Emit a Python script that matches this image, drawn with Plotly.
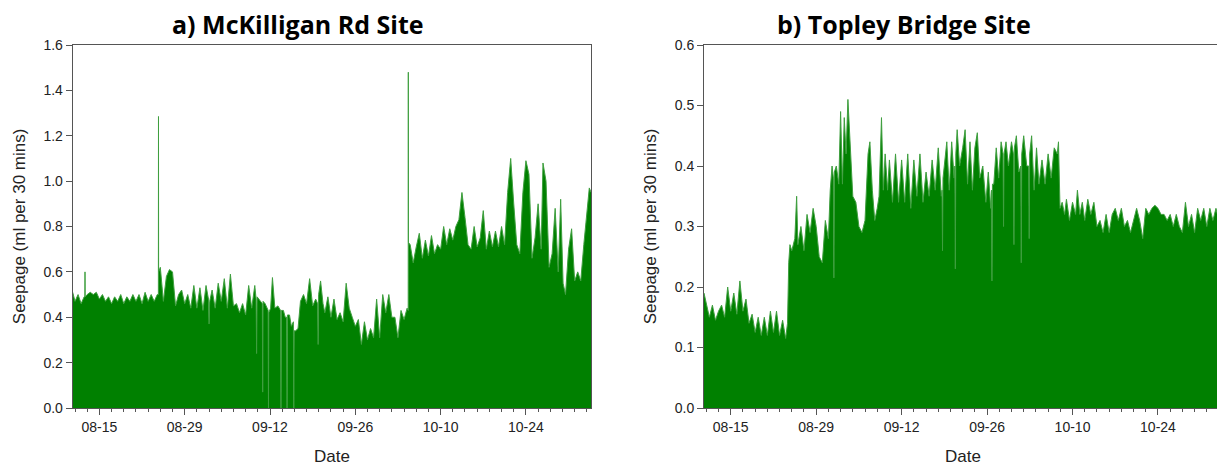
import pandas as pd
import plotly.graph_objects as go

# ---- data: time in days since 2016-08-10 00:00, seepage (ml per 30 mins) ----
t_a = [0.62, 1.0, 1.5, 2.0, 2.5, 2.62, 2.64, 2.66, 3.0, 3.5, 4.0, 4.5, 5.0, 5.5, 6.0, 6.5,
       7.0, 7.5, 8.0, 8.5, 9.0, 9.5, 10.0, 10.5, 11.0, 11.5, 12.0, 12.5, 13.0, 13.5, 14.0,
       14.5, 14.68, 14.70, 14.72, 15.0, 15.5, 16.0, 16.5, 17.0, 17.5, 18.0, 18.5, 19.0,
       19.5, 20.0, 20.5, 21.0, 21.5, 22.0, 22.5, 22.9, 23.0, 23.1, 23.5, 24.0, 24.5, 25.0,
       25.5, 26.0, 26.5, 27.0, 27.5, 28.0, 28.5, 29.0, 29.5, 30.0, 30.5, 30.72, 30.8,
       30.88, 31.2, 31.5, 31.74, 31.8, 31.86, 32.2, 32.5, 32.7, 32.75, 32.8, 33.1, 33.4,
       33.8, 34.3, 34.74, 34.8, 34.86, 35.2, 35.5, 35.74, 35.8, 35.86, 36.2, 36.5, 36.84,
       36.9, 36.96, 37.2, 37.6, 38.0, 38.5, 39.0, 39.5, 40.0, 40.5, 40.82, 40.9, 40.98,
       41.3, 41.7, 42.0, 42.5, 43.0, 43.5, 44.0, 44.5, 45.0, 45.5, 46.0, 46.5, 47.0, 47.5,
       48.0, 48.5, 49.0, 49.5, 50.0, 50.5, 51.0, 51.5, 52.0, 52.5, 53.0, 53.5, 54.0, 54.5,
       55.0, 55.5, 55.68, 55.70, 55.72, 56.0, 56.5, 57.0, 57.5, 58.0, 58.5, 59.0, 59.5,
       60.0, 60.5, 61.0, 61.5, 62.0, 62.5, 63.0, 63.5, 64.0, 64.5, 65.0, 65.5, 66.0, 66.5,
       67.0, 67.5, 68.0, 68.5, 69.0, 69.5, 70.0, 70.5, 71.0, 71.5, 72.0, 72.5, 73.0, 73.5,
       74.0, 74.5, 75.0, 75.5, 76.0, 76.5, 77.0, 77.5, 77.8, 78.3, 78.8, 79.3, 79.8, 80.3,
       80.7, 81.1, 81.5, 82.0, 82.5, 83.0, 83.5, 84.0, 84.5, 85.0, 85.4, 85.7]
v_a = [0.51, 0.47, 0.50, 0.46, 0.49, 0.49, 0.60, 0.49, 0.50, 0.51, 0.50, 0.51, 0.48, 0.50, 0.47, 0.49,
       0.46, 0.49, 0.47, 0.50, 0.46, 0.49, 0.47, 0.50, 0.47, 0.50, 0.46, 0.51, 0.47, 0.50, 0.47,
       0.50, 0.50, 1.285, 0.60, 0.62, 0.47, 0.58, 0.61, 0.60, 0.45, 0.50, 0.52, 0.46,
       0.50, 0.44, 0.54, 0.44, 0.53, 0.43, 0.54, 0.48, 0.37, 0.47, 0.52, 0.44, 0.55, 0.47,
       0.57, 0.44, 0.59, 0.45, 0.46, 0.42, 0.46, 0.41, 0.54, 0.44, 0.54, 0.48, 0.24,
       0.49, 0.48, 0.47, 0.46, 0.07, 0.47, 0.46, 0.44, 0.43, 0.0, 0.42, 0.44, 0.575,
       0.44, 0.45, 0.43, 0.0, 0.43, 0.43, 0.40, 0.40, 0.0, 0.41, 0.41, 0.36, 0.38,
       0.0, 0.34, 0.34, 0.35, 0.47, 0.50, 0.46, 0.57, 0.45, 0.48, 0.46, 0.28, 0.50,
       0.56, 0.46, 0.42, 0.49, 0.40, 0.48, 0.39, 0.42, 0.38, 0.55, 0.44, 0.40, 0.36, 0.39,
       0.28, 0.38, 0.30, 0.35, 0.31, 0.48, 0.31, 0.50, 0.42, 0.50, 0.40, 0.40, 0.31, 0.43,
       0.39, 0.44, 0.43, 1.48, 0.73, 0.72, 0.64, 0.71, 0.77, 0.66, 0.74, 0.67, 0.76,
       0.68, 0.72, 0.70, 0.80, 0.72, 0.79, 0.74, 0.80, 0.83, 0.95, 0.84, 0.72, 0.70, 0.80,
       0.71, 0.75, 0.87, 0.70, 0.78, 0.71, 0.78, 0.71, 0.80, 0.72, 0.95, 1.10, 0.90, 0.72,
       0.68, 0.95, 1.09, 1.03, 0.66, 0.75, 0.90, 0.70, 1.08, 1.00, 0.62, 0.68, 0.88, 0.60,
       0.92, 0.55, 0.50, 0.70, 0.79, 0.56, 0.60, 0.56, 0.72, 0.85, 0.97, 0.95]

t_b = [0.62, 1.0, 1.5, 2.0, 2.5, 3.0, 3.5, 4.0, 4.5, 5.0, 5.5, 6.0, 6.5, 7.0, 7.5, 8.0, 8.5,
       9.0, 9.5, 10.0, 10.5, 11.0, 11.5, 12.0, 12.5, 13.0, 13.5, 14.0, 14.3, 14.5, 14.7,
       15.0, 15.5, 15.8, 16.0, 16.5, 17.0, 17.5, 18.0, 18.5, 19.0, 19.5, 20.0, 20.5, 21.0,
       21.3, 21.6, 21.82, 21.9, 21.98, 22.3, 22.7, 23.0, 23.3, 23.6, 23.9, 24.2, 24.5, 25.0,
       25.5, 26.0, 26.5, 27.0, 27.5, 27.8, 28.2, 28.6, 29.0, 29.3, 29.7, 30.0, 30.3, 30.7,
       31.0, 31.5, 32.0, 32.5, 33.0, 33.5, 34.0, 34.5, 35.0, 35.5, 36.0, 36.5, 37.0, 37.5,
       38.0, 38.5, 39.0, 39.5, 39.62, 39.7, 39.78, 40.0, 40.4, 40.8, 41.2, 41.6, 41.72, 41.8,
       41.88, 42.1, 42.5, 43.0, 43.4, 43.8, 44.2, 44.6, 45.0, 45.4, 45.8, 46.3, 46.8, 47.2,
       47.6, 47.72, 47.8, 47.88, 48.1, 48.5, 48.9, 49.3, 49.62, 49.7, 49.78, 50.1, 50.5,
       51.0, 51.32, 51.4, 51.48, 51.8, 52.2, 52.52, 52.6, 52.68, 53.0, 53.5, 53.82, 53.9,
       53.98, 54.3, 54.7, 55.1, 55.5, 56.0, 56.5, 57.0, 57.5, 58.0, 58.5, 58.7, 58.95, 59.3,
       59.7, 60.0, 60.5, 61.0, 61.5, 61.8, 62.2, 62.6, 63.0, 63.5, 64.0, 64.5, 65.0, 65.5,
       66.0, 66.5, 67.0, 67.5, 68.0, 68.5, 69.0, 69.5, 70.0, 70.5, 71.0, 71.5, 72.0, 72.5,
       73.0, 73.5, 74.0, 74.5, 75.0, 75.5, 76.0, 76.5, 77.0, 77.5, 78.0, 78.5, 79.0, 79.5,
       80.0, 80.5, 81.0, 81.5, 82.0, 82.5, 83.0, 83.5, 84.0, 84.5, 85.0]
v_b = [0.19, 0.17, 0.15, 0.17, 0.145, 0.16, 0.17, 0.15, 0.20, 0.16, 0.19, 0.155, 0.21, 0.16, 0.18, 0.14, 0.155,
       0.125, 0.15, 0.12, 0.15, 0.12, 0.16, 0.125, 0.16, 0.12, 0.145, 0.115, 0.14, 0.24, 0.27,
       0.26, 0.28, 0.35, 0.27, 0.30, 0.26, 0.32, 0.29, 0.33, 0.30, 0.25, 0.24, 0.31, 0.28,
       0.36, 0.40, 0.38, 0.215, 0.39, 0.40, 0.37, 0.49, 0.37, 0.48, 0.42, 0.51, 0.45, 0.35,
       0.34, 0.30, 0.29, 0.31, 0.42, 0.44, 0.36, 0.31, 0.33, 0.35, 0.48, 0.36, 0.42, 0.36,
       0.41, 0.34, 0.42, 0.34, 0.41, 0.34, 0.42, 0.33, 0.41, 0.35, 0.42, 0.34, 0.39, 0.35,
       0.41, 0.36, 0.43, 0.35, 0.36, 0.26, 0.38, 0.40, 0.44, 0.36, 0.44, 0.38, 0.40, 0.23,
       0.42, 0.46, 0.40, 0.43, 0.46, 0.37, 0.44, 0.36, 0.43, 0.455, 0.38, 0.40, 0.34, 0.39,
       0.33, 0.36, 0.21, 0.37, 0.37, 0.43, 0.38, 0.44, 0.42, 0.30, 0.42, 0.44, 0.40,
       0.44, 0.42, 0.27, 0.43, 0.45, 0.39, 0.40, 0.24, 0.42, 0.45, 0.40, 0.40, 0.28,
       0.42, 0.45, 0.36, 0.43, 0.37, 0.41, 0.37, 0.42, 0.38, 0.43, 0.42, 0.44, 0.33, 0.34,
       0.32, 0.345, 0.31, 0.34, 0.32, 0.36, 0.32, 0.34, 0.31, 0.345, 0.32, 0.34, 0.30, 0.31,
       0.29, 0.32, 0.29, 0.32, 0.33, 0.31, 0.33, 0.30, 0.31, 0.29, 0.31, 0.33, 0.31, 0.28,
       0.33, 0.32, 0.33, 0.335, 0.33, 0.32, 0.32, 0.31, 0.32, 0.30, 0.32, 0.30, 0.29, 0.34,
       0.30, 0.32, 0.29, 0.33, 0.31, 0.33, 0.30, 0.33, 0.31, 0.33, 0.31]

titles = ["a) McKilligan Rd Site", "b) Topley Bridge Site"]
y_title = "Seepage (ml per 30 mins)"
x_title = "Date"

base = pd.Timestamp("2016-08-10")
def to_dates(t):
    return [base + pd.to_timedelta(d, unit="D") for d in t]

W, H = 1217, 466
fig = go.Figure()
fill_col = "#008000"
line_col = "#3f9f3f"

fig.add_trace(go.Scatter(x=to_dates(t_a), y=v_a, mode="lines", fill="tozeroy",
                         fillcolor=fill_col, line=dict(color=line_col, width=1),
                         xaxis="x", yaxis="y", showlegend=False, hoverinfo="skip"))
fig.add_trace(go.Scatter(x=to_dates(t_b), y=v_b, mode="lines", fill="tozeroy",
                         fillcolor=fill_col, line=dict(color=line_col, width=1),
                         xaxis="x2", yaxis="y2", showlegend=False, hoverinfo="skip"))

axcol = "#555555"
tickfont = dict(family="Liberation Sans, Arial, sans-serif", size=14, color="#222222")
day = 86400000

def xaxis(domain, end_t, anchor):
    return dict(domain=domain, anchor=anchor, type="date",
                range=[base + pd.to_timedelta(0.62, unit="D"), base + pd.to_timedelta(end_t, unit="D")],
                tick0="2016-08-15", dtick=14 * day, tickformat="%m-%d",
                ticks="outside", ticklen=6, tickcolor=axcol, tickwidth=1,
                minor=dict(ticks="outside", ticklen=3, dtick=2 * day, tick0="2016-08-15",
                           tickcolor=axcol, tickwidth=1, showgrid=False),
                showline=True, linecolor=axcol, linewidth=1, mirror=True,
                showgrid=False, zeroline=False, tickfont=tickfont, fixedrange=True)

def yaxis(domain_anchor, top, dt, mirror):
    return dict(anchor=domain_anchor, range=[0, top], dtick=dt, tick0=0, tickformat=".1f",
                ticks="outside", ticklen=6, tickcolor=axcol, tickwidth=1,
                showline=True, linecolor=axcol, linewidth=1, mirror=mirror,
                showgrid=False, zeroline=False, tickfont=tickfont, fixedrange=True)

d1 = [72.7 / W, 591.0 / W]
d2 = [704.0 / W, 1.0]

fig.update_layout(
    width=W, height=H,
    margin=dict(l=0, r=0, t=45, b=58),
    paper_bgcolor="white", plot_bgcolor="white",
    xaxis=xaxis(d1, 85.68, "y"),
    yaxis=yaxis("x", 1.6, 0.2, True),
    xaxis2=xaxis(d2, 84.67, "y2"),
    yaxis2=yaxis("x2", 0.6, 0.1, False),
)

plot_top, plot_bot = 45, 408
def py(px):
    return (plot_bot - px) / (plot_bot - plot_top)

title_font = dict(family="Open Sans, sans-serif", size=25, color="black")
lab_font = dict(family="Liberation Sans, Arial, sans-serif", size=17, color="#222222")
ann = [
    dict(text="<b>%s</b>" % titles[0], x=297.5 / W, y=py(24), xref="paper", yref="paper",
         xanchor="center", yanchor="middle", showarrow=False, font=title_font),
    dict(text="<b>%s</b>" % titles[1], x=904.0 / W, y=py(24), xref="paper", yref="paper",
         xanchor="center", yanchor="middle", showarrow=False, font=title_font),
    dict(text=x_title, x=331.9 / W, y=py(456), xref="paper", yref="paper",
         xanchor="center", yanchor="middle", showarrow=False, font=lab_font),
    dict(text=x_title, x=963.0 / W, y=py(456), xref="paper", yref="paper",
         xanchor="center", yanchor="middle", showarrow=False, font=lab_font),
    dict(text=y_title, x=19.7 / W, y=py(226.5), xref="paper", yref="paper", textangle=-90,
         xanchor="center", yanchor="middle", showarrow=False, font=lab_font),
    dict(text=y_title, x=650.8 / W, y=py(226.5), xref="paper", yref="paper", textangle=-90,
         xanchor="center", yanchor="middle", showarrow=False, font=lab_font),
]
fig.update_layout(annotations=ann)

fig.write_html("out.html", config={"displayModeBar": False},
               post_script="document.body.style.margin='0';document.body.style.overflow='hidden';")
